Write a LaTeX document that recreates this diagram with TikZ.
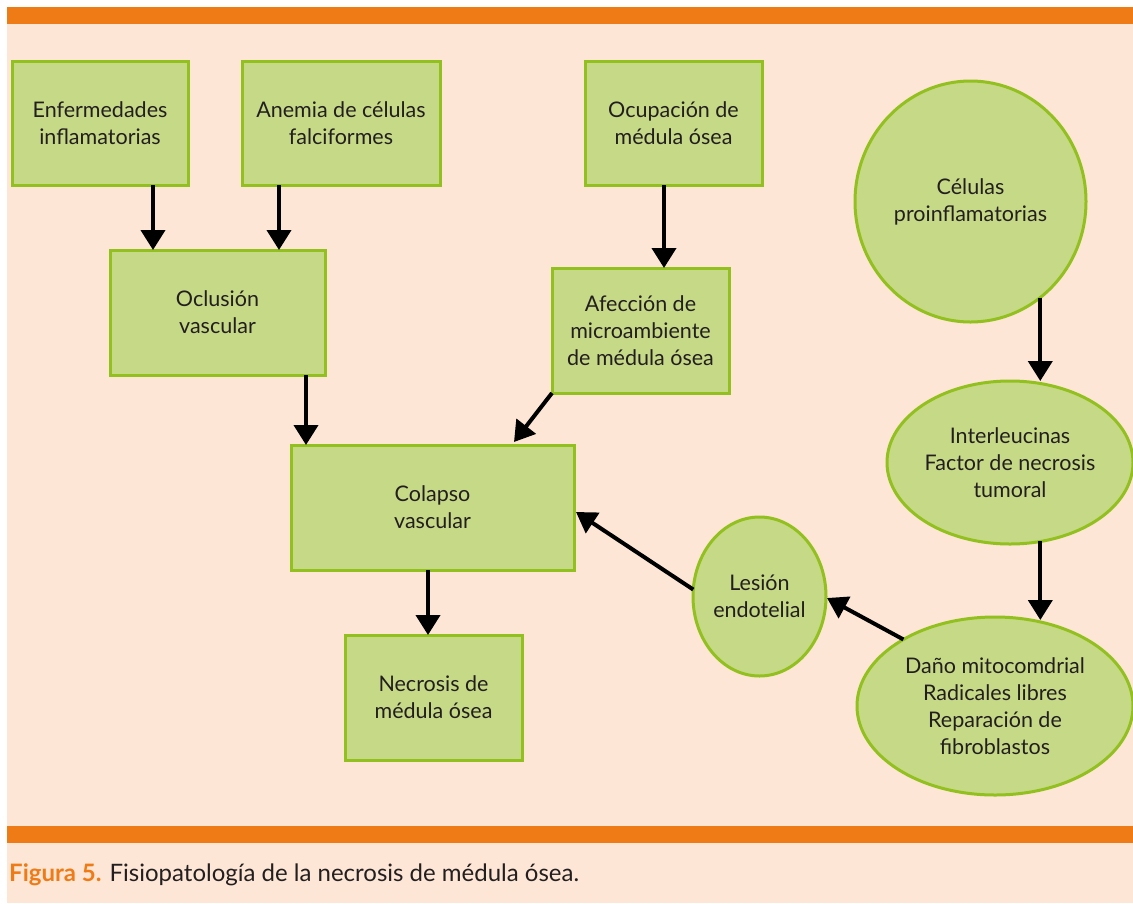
\documentclass[tikz,border=0pt]{standalone}
\usepackage{fontspec}
\setmainfont{Lato}
\usetikzlibrary{arrows.meta,shapes.geometric}
\definecolor{peach}{RGB}{253,230,213}
\definecolor{orangebar}{RGB}{239,123,22}
\definecolor{boxfill}{RGB}{198,217,134}
\definecolor{boxline}{RGB}{146,192,31}
\definecolor{ink}{RGB}{35,31,32}
\begin{document}
\begin{tikzpicture}[x=1pt,y=-1pt,
  box/.style={draw=boxline,fill=boxfill,line width=3pt,inner sep=0pt,outer sep=0pt,
    align=center,text=ink,font=\fontsize{21.5}{27}\selectfont},
  rbox/.style={box,rectangle},
  oval/.style={box,ellipse},
  arr/.style={line width=4pt,draw=black,-{Triangle[length=20pt,width=24pt]}}]
\useasboundingbox (0,0) rectangle (1133,903);
\fill[white] (0,0) rectangle (1133,903);
\fill[peach] (7,7) rectangle (1133,903);
\fill[orangebar] (7,7) rectangle (1133,24);
\fill[orangebar] (7,826) rectangle (1133,843);

\node[rbox,minimum width=176,minimum height=124] (a1) at (100,123) {Enfermedades\\inflamatorias};
\node[rbox,minimum width=198,minimum height=124] (a2) at (341,123) {Anemia de células\\falciformes};
\node[rbox,minimum width=177,minimum height=124] (a3) at (673.5,123) {Ocupación de\\médula ósea};
\node[rbox,minimum width=215,minimum height=125] (a5) at (217.5,312.5) {Oclusión\\vascular};
\node[rbox,minimum width=177,minimum height=125] (a6) at (640.5,330.5) {Afección de\\microambiente\\de médula ósea};
\node[rbox,minimum width=283,minimum height=125] (a8) at (432.5,507.5) {Colapso\\vascular};
\node[rbox,minimum width=177,minimum height=125] (a11) at (433.5,697.5) {Necrosis de\\médula ósea};

\node[oval,minimum width=231,minimum height=241] (e4) at (970.5,201.5) {Células\\proinflamatorias};
\node[oval,minimum width=246,minimum height=163] (e7) at (1010,462.5) {Interleucinas\\Factor de necrosis\\tumoral};
\node[oval,minimum width=133,minimum height=159] (e9) at (759.5,596.5) {Lesión\\endotelial};
\node[oval,minimum width=276,minimum height=178] (e10) at (995,706) {Daño mitocomdrial\\Radicales libres\\Reparación de\\fibroblastos};

\draw[arr] ([xshift=53pt]a1.south) -- ([xshift=-64.5pt]a5.north);
\draw[arr] ([xshift=-62pt]a2.south) -- ([xshift=61.5pt]a5.north);
\draw[arr] ([xshift=-9.5pt]a3.south) -- ([xshift=23.5pt]a6.north);
\draw[arr] ([xshift=88.5pt]a5.south) -- ([xshift=-126.5pt]a8.north);
\draw[arr] (a6.south west) -- ([xshift=81.5pt,yshift=3pt]a8.north);
\draw[arr] ([xshift=-4.5pt]a8.south) -- ([xshift=-5.5pt]a11.north);
\draw[arr] (e4.-54) -- (e4.-54 |- e7.north);
\draw[arr,shorten >=-3pt] (e7.-69) -- (e7.-69 |- e10.north);
\draw[arr] (e10.144) -- ([xshift=1pt,yshift=-1.5pt]e9.east);
\draw[arr] (e9.174) -- ([xshift=2pt,yshift=-4.5pt]a8.east);

\node[anchor=base west,inner sep=0pt,font=\fontsize{24}{28}\selectfont] (cap) at (9,881)
  {\textcolor{orangebar}{\bfseries Figura 5.} \textcolor{ink}{Fisiopatología de la necrosis de médula ósea.}};
\end{tikzpicture}
\end{document}
